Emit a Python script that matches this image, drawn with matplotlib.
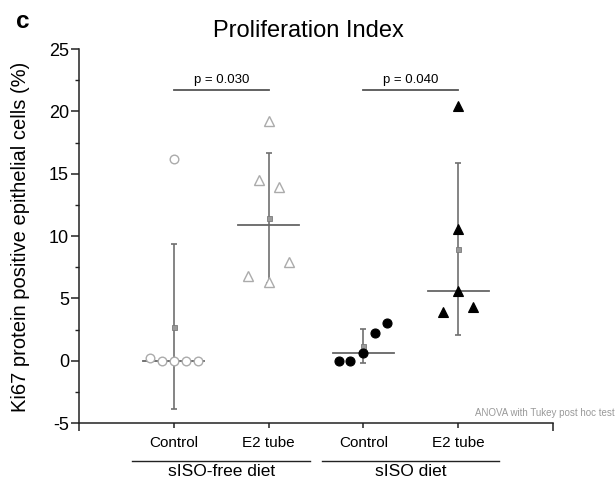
import numpy as np
import matplotlib
matplotlib.use("Agg")
import matplotlib.pyplot as plt
import matplotlib.transforms as mtransforms

plt.rcParams.update({
    "font.family": ["Liberation Sans", "DejaVu Sans"],
    "axes.spines.top": False,
    "axes.spines.right": False,
})

# data
categories = ["Control", "E2 tube", "Control", "E2 tube"]
diets = ["sISO-free diet", "sISO diet"]
ctrl_free = [0.2, 0.0, 0.0, 0.0, 0.0, 16.2]
e2_free = [19.2, 14.5, 13.9, 6.8, 6.3, 7.9]
ctrl_iso = [0.0, 0.0, 0.6, 2.2, 3.0]
e2_iso = [20.4, 10.6, 5.6, 3.9, 4.3]
p_values = ["p = 0.030", "p = 0.040"]

# horizontal spread of the dots (scatter layout)
jitter = [
    [-0.25, -0.125, 0.0, 0.125, 0.25, 0.0],
    [0.0, -0.105, 0.105, -0.22, 0.0, 0.21],
    [-0.26, -0.14, 0.0, 0.125, 0.25],
    [0.0, 0.0, 0.0, -0.16, 0.16],
]

groups = [ctrl_free, e2_free, ctrl_iso, e2_iso]
styles = [
    dict(marker="o", mfc="white", mec="#ababab", ms=6.2, mew=1.0),
    dict(marker="^", mfc="white", mec="#ababab", ms=6.8, mew=1.0),
    dict(marker="o", mfc="black", mec="black", ms=6.5, mew=0.8),
    dict(marker="^", mfc="black", mec="black", ms=6.5, mew=0.8),
]

fig = plt.figure(figsize=(6.15, 4.79), dpi=100)
ax = fig.add_axes([0.1285, 0.1169, 0.7707, 0.7808])

for i, (vals, dx, st) in enumerate(zip(groups, jitter, styles)):
    xc = i + 1
    v = np.array(vals)
    mean, sd, med = v.mean(), v.std(ddof=1), np.median(v)
    ax.errorbar(xc, mean, yerr=sd, fmt="none", ecolor="#707070", elinewidth=1.2,
                capsize=2.3, capthick=1.2, zorder=2)
    ax.plot(xc, mean, "s", ms=3.6, mfc="#9a9a9a", mec="#7a7a7a", mew=0.6, zorder=3)
    ax.plot([xc - 0.32, xc + 0.32], [med, med], color="#666666", lw=1.3, zorder=3)
    ax.plot(xc + np.array(dx), v, ls="none", zorder=4, **st)

# significance bars
for (x0, x1), txt in zip([(1, 2), (3, 4)], p_values):
    ax.plot([x0, x1], [21.7, 21.7], color="#555555", lw=1.3)
    ax.text((x0 + x1) / 2, 22.3, txt, ha="center", va="baseline", fontsize=9.5)

ax.set_xlim(0, 5)
ax.set_ylim(-5, 25)
ax.set_yticks(np.arange(-5, 26, 5))
ax.set_yticklabels([str(t) for t in range(-5, 26, 5)])
ax.set_yticks(np.arange(-5, 25.1, 2.5), minor=True)
ax.set_xticks([1, 2, 3, 4])
ax.set_xticklabels(categories)
ax.set_xticks([0, 5], minor=True)

for s in ["left", "bottom"]:
    ax.spines[s].set_linewidth(1.1)
    ax.spines[s].set_color("#222222")
ax.tick_params(axis="y", which="major", length=5.8, width=1.1, color="#222222",
               labelsize=13, pad=1.5)
ax.tick_params(axis="y", which="minor", length=2.6, width=1.0, color="#222222")
ax.tick_params(axis="x", which="major", length=3.5, width=1.1, color="#222222",
               labelsize=11, pad=6)
ax.tick_params(axis="x", which="minor", length=6, width=1.1, color="#222222")

# diet group lines under the category labels
trans = mtransforms.blended_transform_factory(ax.transData, ax.transAxes)
for (x0, x1), name in zip([(0.56, 2.44), (2.56, 4.43)], diets):
    ax.plot([x0, x1], [-0.1016, -0.1016], color="#222222", lw=1.0,
            transform=trans, clip_on=False)
    ax.text((x0 + x1) / 2, -0.131, name, ha="center", va="center", fontsize=12.5,
            transform=trans)

fig.text(0.034, 0.506, "Ki67 protein positive epithelial cells (%)", rotation=90,
         ha="center", va="center", fontsize=14.5)
fig.text(0.501, 0.922, "Proliferation Index", ha="center", va="baseline", fontsize=17)
fig.text(0.0255, 0.941, "c", ha="left", va="baseline", fontsize=17.5, fontweight="bold")
fig.text(0.999, 0.1384, "ANOVA with Tukey post hoc test", ha="right", va="center",
         fontsize=7, color="#999999")

fig.savefig("out.png", dpi=100)
